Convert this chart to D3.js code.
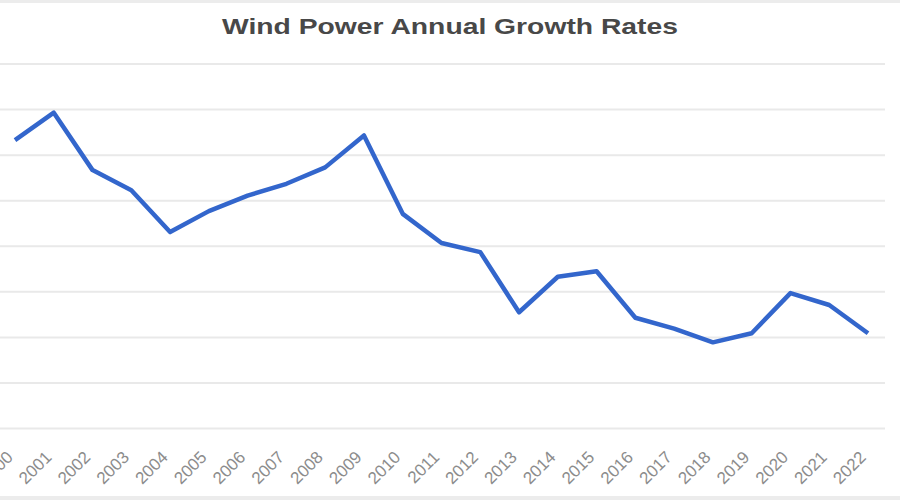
<!DOCTYPE html>
<html>
<head>
<meta charset="utf-8">
<script src="https://cdn.jsdelivr.net/npm/d3@7"></script>
<style>
  body { margin: 0; background: #fff; }
  svg { display: block; }
</style>
</head>
<body>
<div id="chart"></div>
<script>
var years = ["2000","2001","2002","2003","2004","2005","2006","2007","2008","2009","2010","2011",
             "2012","2013","2014","2015","2016","2017","2018","2019","2020","2021","2022"];
// annual growth rate, %
var growth = [31.6, 34.6, 28.3, 26.1, 21.5, 23.8, 25.5, 26.8, 28.6, 32.1, 23.5, 20.3,
              19.3, 12.7, 16.6, 17.2, 12.1, 10.9, 9.4, 10.4, 14.8, 13.5, 10.4];
var yTicks = [0, 5, 10, 15, 20, 25, 30, 35, 40];
var title = "Wind Power Annual Growth Rates";

var width = 900, height = 500;

var svg = d3.select("#chart").append("svg")
    .attr("width", width)
    .attr("height", height);

// light frame top and bottom
svg.append("rect").attr("x", 0).attr("y", 0).attr("width", width).attr("height", 3).style("fill", "#ececec");
svg.append("rect").attr("x", 0).attr("y", 496).attr("width", width).attr("height", 4).style("fill", "#ececec");

var x = d3.scalePoint().domain(years).range([15, 868]);
var y = d3.scaleLinear().domain([0, 40]).range([428, 63.5]);

// gridlines
var grid = svg.append("g")
    .attr("class", "grid")
    .call(d3.axisLeft(y).tickValues(yTicks).tickSize(-885).tickFormat(""));
grid.select(".domain").remove();
grid.selectAll("line").style("stroke", "#e9e9e9").style("stroke-width", 2);

// x axis labels, slanted
var xAxis = svg.append("g")
    .attr("transform", "translate(0,442)")
    .call(d3.axisBottom(x).tickSize(0));
xAxis.select(".domain").remove();
xAxis.selectAll("text")
    .attr("transform", "translate(-8,10) rotate(-45)")
    .attr("dy", "0.35em")
    .style("text-anchor", "end")
    .style("font-family", "Liberation Sans, Arial, sans-serif")
    .style("font-size", "17px")
    .style("fill", "#8c8c8c");

// line
var line = d3.line()
    .x(function(d, i){ return x(years[i]); })
    .y(function(d){ return y(d); });

svg.append("path")
    .datum(growth)
    .attr("d", line)
    .style("fill", "none")
    .style("stroke", "#3366cc")
    .style("stroke-width", 4.5)
    .style("stroke-linejoin", "round");

// title
svg.append("text")
    .attr("x", 450)
    .attr("y", 34)
    .attr("text-anchor", "middle")
    .attr("textLength", 456)
    .attr("lengthAdjust", "spacingAndGlyphs")
    .style("font-family", "Liberation Sans, Arial, sans-serif")
    .style("font-weight", "bold")
    .style("font-size", "22px")
    .style("fill", "#484848")
    .text(title);
</script>
</body>
</html>
